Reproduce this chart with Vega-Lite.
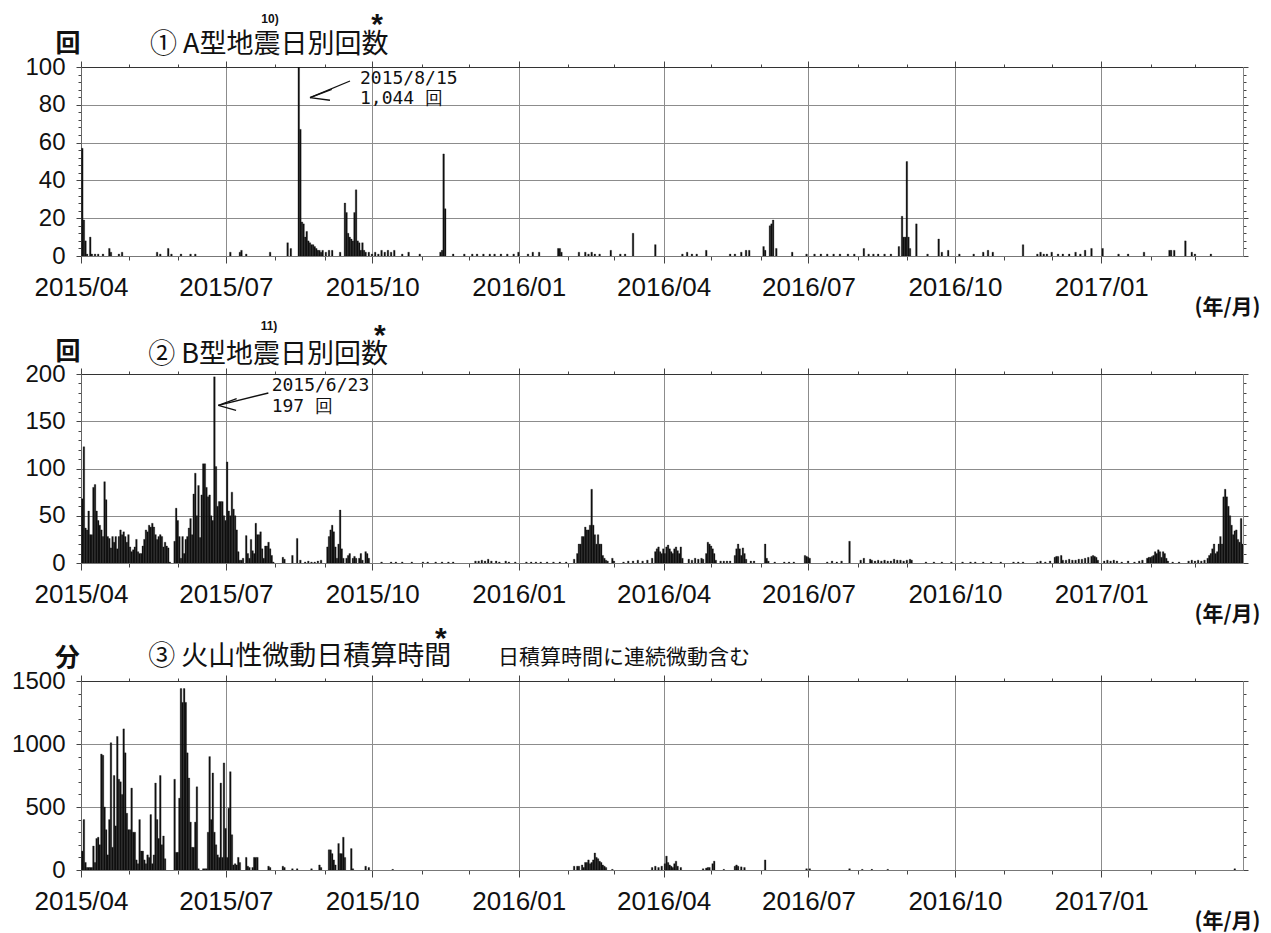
{
  "$schema": "https://vega.github.io/schema/vega-lite/v6.json",
  "background": "white",
  "padding": {"left": 11, "top": 9, "right": 5, "bottom": 5},
  "config": {
    "view": {"stroke": null},
    "axis": {"labelFont": "Liberation Sans", "labelColor": "#111", "tickColor": "#444", "domainColor": "#666", "gridColor": "#8c8c8c", "gridWidth": 1, "labelFlush": false, "labelOverlap": false, "labelBound": false},
    "text": {"color": "#111"}
  },
  "spacing": 118,
  "bounds": "flush",
  "vconcat": [
    {
      "width": 1162, "height": 189,
      "resolve": {"axis": {"x": "independent", "y": "independent"}},
      "layer": [
        {
          "data": {"values": [{"d":"2015-04-01","v":57},{"d":"2015-04-02","v":19},{"d":"2015-04-03","v":8},{"d":"2015-04-04","v":1},{"d":"2015-04-06","v":10},{"d":"2015-04-07","v":1},{"d":"2015-04-09","v":1},{"d":"2015-04-11","v":1},{"d":"2015-04-14","v":1},{"d":"2015-04-18","v":4},{"d":"2015-04-19","v":2},{"d":"2015-04-24","v":1},{"d":"2015-04-26","v":2},{"d":"2015-05-18","v":2},{"d":"2015-05-20","v":1},{"d":"2015-05-25","v":4},{"d":"2015-05-27","v":1},{"d":"2015-06-02","v":1},{"d":"2015-06-08","v":1},{"d":"2015-06-11","v":1},{"d":"2015-07-03","v":2},{"d":"2015-07-09","v":2},{"d":"2015-07-10","v":3},{"d":"2015-07-13","v":1},{"d":"2015-07-28","v":2},{"d":"2015-08-08","v":7},{"d":"2015-08-10","v":4},{"d":"2015-08-15","v":1044},{"d":"2015-08-16","v":67},{"d":"2015-08-17","v":18},{"d":"2015-08-18","v":17},{"d":"2015-08-19","v":10},{"d":"2015-08-20","v":13},{"d":"2015-08-21","v":8},{"d":"2015-08-22","v":7},{"d":"2015-08-23","v":6},{"d":"2015-08-24","v":6},{"d":"2015-08-25","v":5},{"d":"2015-08-26","v":4},{"d":"2015-08-27","v":3},{"d":"2015-08-28","v":3},{"d":"2015-08-29","v":2},{"d":"2015-08-30","v":3},{"d":"2015-09-01","v":2},{"d":"2015-09-03","v":3},{"d":"2015-09-05","v":3},{"d":"2015-09-10","v":2},{"d":"2015-09-13","v":28},{"d":"2015-09-14","v":23},{"d":"2015-09-15","v":12},{"d":"2015-09-16","v":10},{"d":"2015-09-17","v":9},{"d":"2015-09-18","v":8},{"d":"2015-09-19","v":23},{"d":"2015-09-20","v":35},{"d":"2015-09-21","v":8},{"d":"2015-09-22","v":7},{"d":"2015-09-23","v":3},{"d":"2015-09-24","v":7},{"d":"2015-09-25","v":3},{"d":"2015-09-26","v":2},{"d":"2015-09-28","v":2},{"d":"2015-09-30","v":1},{"d":"2015-10-02","v":2},{"d":"2015-10-04","v":1},{"d":"2015-10-06","v":3},{"d":"2015-10-08","v":2},{"d":"2015-10-10","v":3},{"d":"2015-10-12","v":2},{"d":"2015-10-14","v":3},{"d":"2015-10-19","v":1},{"d":"2015-10-23","v":2},{"d":"2015-10-30","v":1},{"d":"2015-11-12","v":2},{"d":"2015-11-13","v":3},{"d":"2015-11-14","v":54},{"d":"2015-11-15","v":25},{"d":"2015-11-20","v":1},{"d":"2015-11-27","v":1},{"d":"2015-12-02","v":1},{"d":"2015-12-05","v":1},{"d":"2015-12-09","v":1},{"d":"2015-12-13","v":1},{"d":"2015-12-16","v":1},{"d":"2015-12-20","v":1},{"d":"2015-12-24","v":1},{"d":"2015-12-28","v":1},{"d":"2015-12-31","v":2},{"d":"2016-01-06","v":1},{"d":"2016-01-09","v":2},{"d":"2016-01-13","v":2},{"d":"2016-01-25","v":4},{"d":"2016-01-26","v":4},{"d":"2016-01-27","v":2},{"d":"2016-02-07","v":2},{"d":"2016-02-11","v":2},{"d":"2016-02-13","v":1},{"d":"2016-02-15","v":2},{"d":"2016-02-17","v":1},{"d":"2016-02-20","v":1},{"d":"2016-02-27","v":3},{"d":"2016-03-04","v":1},{"d":"2016-03-07","v":1},{"d":"2016-03-12","v":12},{"d":"2016-03-26","v":6},{"d":"2016-04-12","v":1},{"d":"2016-04-15","v":2},{"d":"2016-04-18","v":1},{"d":"2016-04-21","v":1},{"d":"2016-04-27","v":3},{"d":"2016-05-12","v":1},{"d":"2016-05-15","v":1},{"d":"2016-05-19","v":2},{"d":"2016-05-22","v":3},{"d":"2016-05-24","v":3},{"d":"2016-06-02","v":5},{"d":"2016-06-03","v":3},{"d":"2016-06-06","v":16},{"d":"2016-06-07","v":17},{"d":"2016-06-08","v":19},{"d":"2016-06-10","v":4},{"d":"2016-06-20","v":2},{"d":"2016-06-29","v":1},{"d":"2016-07-04","v":1},{"d":"2016-07-08","v":1},{"d":"2016-07-12","v":1},{"d":"2016-07-16","v":1},{"d":"2016-07-20","v":1},{"d":"2016-07-25","v":1},{"d":"2016-07-29","v":1},{"d":"2016-08-04","v":4},{"d":"2016-08-07","v":1},{"d":"2016-08-10","v":1},{"d":"2016-08-13","v":1},{"d":"2016-08-17","v":1},{"d":"2016-08-21","v":1},{"d":"2016-08-26","v":5},{"d":"2016-08-28","v":21},{"d":"2016-08-29","v":10},{"d":"2016-08-30","v":10},{"d":"2016-08-31","v":50},{"d":"2016-09-01","v":10},{"d":"2016-09-02","v":4},{"d":"2016-09-06","v":17},{"d":"2016-09-13","v":1},{"d":"2016-09-20","v":9},{"d":"2016-09-22","v":2},{"d":"2016-09-26","v":3},{"d":"2016-10-03","v":1},{"d":"2016-10-12","v":1},{"d":"2016-10-18","v":2},{"d":"2016-10-21","v":3},{"d":"2016-10-24","v":2},{"d":"2016-11-12","v":6},{"d":"2016-11-21","v":1},{"d":"2016-11-23","v":2},{"d":"2016-11-25","v":1},{"d":"2016-11-27","v":1},{"d":"2016-11-30","v":2},{"d":"2016-12-04","v":1},{"d":"2016-12-07","v":1},{"d":"2016-12-11","v":1},{"d":"2016-12-15","v":2},{"d":"2016-12-18","v":1},{"d":"2016-12-21","v":3},{"d":"2016-12-25","v":4},{"d":"2017-01-01","v":4},{"d":"2017-01-11","v":1},{"d":"2017-01-17","v":1},{"d":"2017-01-27","v":2},{"d":"2017-02-12","v":3},{"d":"2017-02-13","v":3},{"d":"2017-02-15","v":3},{"d":"2017-02-22","v":8},{"d":"2017-02-26","v":2},{"d":"2017-02-28","v":1},{"d":"2017-03-10","v":1}]},
          "mark": {"type": "bar", "color": "#111", "binSpacing": 0, "clip": true, "stroke": "#111", "strokeWidth": 0.3},
          "encoding": {
            "x": {"field": "d", "type": "temporal", "timeUnit": "utcyearmonthdate",
              "scale": {"type": "utc", "nice": false, "domain": [{"year":2015,"month":4,"date":1,"utc":true},{"year":2017,"month":3,"date":31,"utc":true}]},
              "axis": {"orient": "bottom", "values": [{"year":2015,"month":4,"date":1,"utc":true},{"year":2015,"month":5,"date":1,"utc":true},{"year":2015,"month":6,"date":1,"utc":true},{"year":2015,"month":7,"date":1,"utc":true},{"year":2015,"month":8,"date":1,"utc":true},{"year":2015,"month":9,"date":1,"utc":true},{"year":2015,"month":10,"date":1,"utc":true},{"year":2015,"month":11,"date":1,"utc":true},{"year":2015,"month":12,"date":1,"utc":true},{"year":2016,"month":1,"date":1,"utc":true},{"year":2016,"month":2,"date":1,"utc":true},{"year":2016,"month":3,"date":1,"utc":true},{"year":2016,"month":4,"date":1,"utc":true},{"year":2016,"month":5,"date":1,"utc":true},{"year":2016,"month":6,"date":1,"utc":true},{"year":2016,"month":7,"date":1,"utc":true},{"year":2016,"month":8,"date":1,"utc":true},{"year":2016,"month":9,"date":1,"utc":true},{"year":2016,"month":10,"date":1,"utc":true},{"year":2016,"month":11,"date":1,"utc":true},{"year":2016,"month":12,"date":1,"utc":true},{"year":2017,"month":1,"date":1,"utc":true},{"year":2017,"month":2,"date":1,"utc":true},{"year":2017,"month":3,"date":1,"utc":true}],
                "labelExpr": "utcmonth(datum.value) % 3 === 0 ? utcFormat(datum.value, '%Y/%m') : ''",
                "labelFontSize": 26, "labelPadding": 11,
                "grid": true, "gridOpacity": {"condition": {"test": "utcmonth(datum.value) % 3 === 0", "value": 1}, "value": 0},
                "tickSize": {"condition": {"test": "utcmonth(datum.value) % 3 === 0", "value": 7}, "value": 4},
                "domainColor": "#777",
                "title": "(年/月)", "titleFont": "Noto Sans CJK JP", "titleFontSize": 21, "titleFontWeight": "bold", "titleColor": "#111",
                "titleAlign": "right", "titleBaseline": "alphabetic", "titleX": 1179, "titleY": 57}},
            "y": {"field": "v", "type": "quantitative", "scale": {"domain": [0, 100], "nice": false},
              "axis": {"orient": "left", "values": [0,4,8,12,16,20,24,28,32,36,40,44,48,52,56,60,64,68,72,76,80,84,88,92,96,100],
                "labelExpr": "datum.value % 20 === 0 ? datum.label : ''", "labelFontSize": 24, "labelPadding": 11,
                "grid": true, "gridOpacity": {"condition": {"test": "datum.value % 20 === 0", "value": 1}, "value": 0},
                "tickSize": {"condition": {"test": "datum.value % 20 === 0", "value": 5}, "value": 3},
                "title": "回", "titleAngle": 0, "titleFont": "Noto Sans CJK JP", "titleFontSize": 25, "titleFontWeight": "bold", "titleColor": "#111",
                "titleAlign": "center", "titleBaseline": "alphabetic", "titleX": -13.5, "titleY": -15.5}}
          }
        },
        {
          "data": {"values": [{"d": "2015-05-14T08:00:00Z", "v": 107.4, "t": "① A型地震日別回数"}]},
          "mark": {"type": "text", "align": "left", "baseline": "alphabetic", "font": "Noto Sans CJK JP", "fontSize": 27},
          "encoding": {
            "x": {"field": "d", "type": "temporal", "scale": {"type": "utc"},
              "axis": {"orient": "top", "values": [{"year":2015,"month":4,"date":1,"utc":true},{"year":2015,"month":5,"date":1,"utc":true},{"year":2015,"month":6,"date":1,"utc":true},{"year":2015,"month":7,"date":1,"utc":true},{"year":2015,"month":8,"date":1,"utc":true},{"year":2015,"month":9,"date":1,"utc":true},{"year":2015,"month":10,"date":1,"utc":true},{"year":2015,"month":11,"date":1,"utc":true},{"year":2015,"month":12,"date":1,"utc":true},{"year":2016,"month":1,"date":1,"utc":true},{"year":2016,"month":2,"date":1,"utc":true},{"year":2016,"month":3,"date":1,"utc":true},{"year":2016,"month":4,"date":1,"utc":true},{"year":2016,"month":5,"date":1,"utc":true},{"year":2016,"month":6,"date":1,"utc":true},{"year":2016,"month":7,"date":1,"utc":true},{"year":2016,"month":8,"date":1,"utc":true},{"year":2016,"month":9,"date":1,"utc":true},{"year":2016,"month":10,"date":1,"utc":true},{"year":2016,"month":11,"date":1,"utc":true},{"year":2016,"month":12,"date":1,"utc":true},{"year":2017,"month":1,"date":1,"utc":true},{"year":2017,"month":2,"date":1,"utc":true},{"year":2017,"month":3,"date":1,"utc":true}],
                "labels": false, "grid": false, "domainColor": "#333", "title": null,
                "tickSize": {"condition": {"test": "utcmonth(datum.value) % 3 === 0", "value": 6}, "value": 3}}},
            "y": {"field": "v", "type": "quantitative",
              "axis": {"orient": "right", "values": [0,4,8,12,16,20,24,28,32,36,40,44,48,52,56,60,64,68,72,76,80,84,88,92,96,100],
                "labels": false, "grid": false, "domainColor": "#888", "title": null,
                "tickSize": {"condition": {"test": "datum.value % 20 === 0", "value": 5}, "value": 3}}},
            "text": {"field": "t"}
          }
        },
        {
          "data": {"values": [{"d": "2015-07-28T17:00:00Z", "v": 123.5, "t": "10)"}]},
          "mark": {"type": "text", "align": "center", "baseline": "alphabetic", "font": "Liberation Sans", "fontSize": 12, "fontWeight": "bold"},
          "encoding": {"x": {"field": "d", "type": "temporal", "scale": {"type": "utc"}, "axis": null}, "y": {"field": "v", "type": "quantitative", "axis": null}, "text": {"field": "t"}}
        },
        {
          "data": {"values": [{"d": "2015-10-03T23:00:00Z", "v": 117.5, "t": "*"}]},
          "mark": {"type": "text", "align": "center", "baseline": "alphabetic", "font": "Liberation Sans", "fontSize": 30, "fontWeight": "bold"},
          "encoding": {"x": {"field": "d", "type": "temporal", "scale": {"type": "utc"}, "axis": null}, "y": {"field": "v", "type": "quantitative", "axis": null}, "text": {"field": "t"}}
        },
        {
          "data": {"values": [{"d": "2015-09-23T07:00:00Z", "v": 93.8, "t": "2015/8/15"}, {"d": "2015-09-23T07:00:00Z", "v": 83.2, "t": "1,044 回"}]},
          "mark": {"type": "text", "align": "left", "baseline": "middle", "font": "DejaVu Sans Mono", "fontSize": 18},
          "encoding": {"x": {"field": "d", "type": "temporal", "scale": {"type": "utc"}, "axis": null}, "y": {"field": "v", "type": "quantitative", "axis": null}, "text": {"field": "t"}}
        },
        {
          "data": {"values": [{"x1": "2015-08-22T21:00:00Z", "y1": 83.8, "x2": "2015-09-17T00:00:00Z", "y2": 92.6}, {"x1": "2015-08-22T21:00:00Z", "y1": 83.8, "x2": "2015-09-05T12:00:00Z", "y2": 88.2}, {"x1": "2015-08-22T21:00:00Z", "y1": 83.8, "x2": "2015-09-04T10:00:00Z", "y2": 82.4}]},
          "mark": {"type": "rule", "color": "#111", "strokeWidth": 1.3},
          "encoding": {"x": {"field": "x1", "type": "temporal", "scale": {"type": "utc"}, "axis": null}, "x2": {"field": "x2"}, "y": {"field": "y1", "type": "quantitative", "axis": null}, "y2": {"field": "y2"}}
        }
      ]
    },
    {
      "width": 1162, "height": 189,
      "resolve": {"axis": {"x": "independent", "y": "independent"}},
      "layer": [
        {
          "data": {"values": [{"d":"2015-04-01","v":68},{"d":"2015-04-02","v":123},{"d":"2015-04-03","v":37},{"d":"2015-04-04","v":35},{"d":"2015-04-05","v":55},{"d":"2015-04-06","v":30},{"d":"2015-04-07","v":30},{"d":"2015-04-08","v":80},{"d":"2015-04-09","v":83},{"d":"2015-04-10","v":55},{"d":"2015-04-11","v":45},{"d":"2015-04-12","v":40},{"d":"2015-04-13","v":35},{"d":"2015-04-14","v":28},{"d":"2015-04-15","v":86},{"d":"2015-04-16","v":67},{"d":"2015-04-17","v":28},{"d":"2015-04-18","v":26},{"d":"2015-04-19","v":16},{"d":"2015-04-20","v":28},{"d":"2015-04-21","v":22},{"d":"2015-04-22","v":28},{"d":"2015-04-23","v":15},{"d":"2015-04-24","v":28},{"d":"2015-04-25","v":35},{"d":"2015-04-26","v":30},{"d":"2015-04-27","v":33},{"d":"2015-04-28","v":28},{"d":"2015-04-29","v":22},{"d":"2015-04-30","v":30},{"d":"2015-05-01","v":17},{"d":"2015-05-02","v":12},{"d":"2015-05-03","v":14},{"d":"2015-05-04","v":17},{"d":"2015-05-05","v":25},{"d":"2015-05-06","v":12},{"d":"2015-05-07","v":10},{"d":"2015-05-08","v":10},{"d":"2015-05-09","v":18},{"d":"2015-05-10","v":25},{"d":"2015-05-11","v":35},{"d":"2015-05-12","v":33},{"d":"2015-05-13","v":40},{"d":"2015-05-14","v":38},{"d":"2015-05-15","v":42},{"d":"2015-05-16","v":38},{"d":"2015-05-17","v":30},{"d":"2015-05-18","v":25},{"d":"2015-05-19","v":28},{"d":"2015-05-20","v":30},{"d":"2015-05-21","v":28},{"d":"2015-05-22","v":17},{"d":"2015-05-23","v":22},{"d":"2015-05-24","v":18},{"d":"2015-05-25","v":16},{"d":"2015-05-26","v":1},{"d":"2015-05-29","v":23},{"d":"2015-05-30","v":58},{"d":"2015-05-31","v":45},{"d":"2015-06-01","v":28},{"d":"2015-06-02","v":5},{"d":"2015-06-03","v":28},{"d":"2015-06-04","v":10},{"d":"2015-06-05","v":25},{"d":"2015-06-06","v":28},{"d":"2015-06-07","v":37},{"d":"2015-06-08","v":47},{"d":"2015-06-09","v":30},{"d":"2015-06-10","v":73},{"d":"2015-06-11","v":95},{"d":"2015-06-12","v":50},{"d":"2015-06-13","v":82},{"d":"2015-06-14","v":27},{"d":"2015-06-15","v":72},{"d":"2015-06-16","v":105},{"d":"2015-06-17","v":105},{"d":"2015-06-18","v":80},{"d":"2015-06-19","v":70},{"d":"2015-06-20","v":72},{"d":"2015-06-21","v":50},{"d":"2015-06-22","v":45},{"d":"2015-06-23","v":197},{"d":"2015-06-24","v":102},{"d":"2015-06-25","v":60},{"d":"2015-06-26","v":65},{"d":"2015-06-27","v":65},{"d":"2015-06-28","v":65},{"d":"2015-06-29","v":50},{"d":"2015-06-30","v":45},{"d":"2015-07-01","v":107},{"d":"2015-07-02","v":55},{"d":"2015-07-03","v":50},{"d":"2015-07-04","v":75},{"d":"2015-07-05","v":57},{"d":"2015-07-06","v":50},{"d":"2015-07-07","v":35},{"d":"2015-07-08","v":12},{"d":"2015-07-09","v":3},{"d":"2015-07-10","v":3},{"d":"2015-07-11","v":5},{"d":"2015-07-13","v":29},{"d":"2015-07-14","v":10},{"d":"2015-07-15","v":5},{"d":"2015-07-16","v":25},{"d":"2015-07-17","v":13},{"d":"2015-07-18","v":10},{"d":"2015-07-19","v":42},{"d":"2015-07-20","v":30},{"d":"2015-07-21","v":30},{"d":"2015-07-22","v":33},{"d":"2015-07-23","v":15},{"d":"2015-07-24","v":5},{"d":"2015-07-25","v":18},{"d":"2015-07-26","v":18},{"d":"2015-07-27","v":22},{"d":"2015-07-28","v":15},{"d":"2015-07-29","v":8},{"d":"2015-07-30","v":1},{"d":"2015-08-05","v":6},{"d":"2015-08-06","v":4},{"d":"2015-08-11","v":8},{"d":"2015-08-14","v":26},{"d":"2015-08-16","v":3},{"d":"2015-08-19","v":1},{"d":"2015-08-21","v":2},{"d":"2015-08-23","v":1},{"d":"2015-08-25","v":1},{"d":"2015-08-27","v":2},{"d":"2015-08-29","v":3},{"d":"2015-09-02","v":17},{"d":"2015-09-03","v":28},{"d":"2015-09-04","v":35},{"d":"2015-09-05","v":40},{"d":"2015-09-06","v":33},{"d":"2015-09-07","v":17},{"d":"2015-09-08","v":5},{"d":"2015-09-09","v":20},{"d":"2015-09-10","v":56},{"d":"2015-09-11","v":15},{"d":"2015-09-12","v":5},{"d":"2015-09-14","v":5},{"d":"2015-09-15","v":8},{"d":"2015-09-16","v":10},{"d":"2015-09-18","v":5},{"d":"2015-09-19","v":7},{"d":"2015-09-20","v":5},{"d":"2015-09-22","v":5},{"d":"2015-09-23","v":10},{"d":"2015-09-24","v":3},{"d":"2015-09-26","v":12},{"d":"2015-09-27","v":10},{"d":"2015-09-28","v":5},{"d":"2015-10-06","v":1},{"d":"2015-10-12","v":1},{"d":"2015-10-15","v":1},{"d":"2015-10-19","v":1},{"d":"2015-10-25","v":1},{"d":"2015-11-01","v":1},{"d":"2015-11-04","v":1},{"d":"2015-11-09","v":1},{"d":"2015-11-13","v":1},{"d":"2015-11-17","v":1},{"d":"2015-11-20","v":1},{"d":"2015-12-04","v":2},{"d":"2015-12-06","v":2},{"d":"2015-12-08","v":3},{"d":"2015-12-10","v":2},{"d":"2015-12-12","v":4},{"d":"2015-12-14","v":2},{"d":"2015-12-17","v":2},{"d":"2015-12-19","v":1},{"d":"2015-12-23","v":2},{"d":"2015-12-25","v":1},{"d":"2015-12-29","v":1},{"d":"2016-01-05","v":1},{"d":"2016-01-08","v":1},{"d":"2016-01-11","v":1},{"d":"2016-01-14","v":1},{"d":"2016-01-18","v":1},{"d":"2016-01-22","v":1},{"d":"2016-01-26","v":1},{"d":"2016-01-30","v":1},{"d":"2016-02-04","v":4},{"d":"2016-02-06","v":10},{"d":"2016-02-07","v":20},{"d":"2016-02-08","v":20},{"d":"2016-02-09","v":28},{"d":"2016-02-10","v":28},{"d":"2016-02-11","v":38},{"d":"2016-02-12","v":35},{"d":"2016-02-13","v":35},{"d":"2016-02-14","v":40},{"d":"2016-02-15","v":78},{"d":"2016-02-16","v":40},{"d":"2016-02-17","v":30},{"d":"2016-02-18","v":20},{"d":"2016-02-19","v":30},{"d":"2016-02-20","v":20},{"d":"2016-02-21","v":20},{"d":"2016-02-22","v":8},{"d":"2016-02-23","v":5},{"d":"2016-02-24","v":3},{"d":"2016-02-25","v":2},{"d":"2016-02-28","v":5},{"d":"2016-02-29","v":2},{"d":"2016-03-06","v":1},{"d":"2016-03-09","v":2},{"d":"2016-03-12","v":2},{"d":"2016-03-15","v":3},{"d":"2016-03-18","v":2},{"d":"2016-03-21","v":3},{"d":"2016-03-24","v":5},{"d":"2016-03-26","v":12},{"d":"2016-03-27","v":15},{"d":"2016-03-28","v":17},{"d":"2016-03-29","v":12},{"d":"2016-03-30","v":10},{"d":"2016-03-31","v":15},{"d":"2016-04-01","v":10},{"d":"2016-04-02","v":17},{"d":"2016-04-03","v":19},{"d":"2016-04-04","v":15},{"d":"2016-04-05","v":12},{"d":"2016-04-06","v":10},{"d":"2016-04-07","v":15},{"d":"2016-04-08","v":17},{"d":"2016-04-09","v":13},{"d":"2016-04-10","v":10},{"d":"2016-04-11","v":17},{"d":"2016-04-12","v":5},{"d":"2016-04-16","v":4},{"d":"2016-04-18","v":3},{"d":"2016-04-20","v":5},{"d":"2016-04-22","v":4},{"d":"2016-04-24","v":5},{"d":"2016-04-25","v":4},{"d":"2016-04-27","v":10},{"d":"2016-04-28","v":22},{"d":"2016-04-29","v":20},{"d":"2016-04-30","v":18},{"d":"2016-05-01","v":15},{"d":"2016-05-02","v":10},{"d":"2016-05-03","v":3},{"d":"2016-05-06","v":2},{"d":"2016-05-08","v":2},{"d":"2016-05-10","v":2},{"d":"2016-05-12","v":2},{"d":"2016-05-15","v":8},{"d":"2016-05-16","v":15},{"d":"2016-05-17","v":20},{"d":"2016-05-18","v":15},{"d":"2016-05-19","v":8},{"d":"2016-05-20","v":16},{"d":"2016-05-21","v":10},{"d":"2016-05-22","v":4},{"d":"2016-05-25","v":2},{"d":"2016-05-27","v":2},{"d":"2016-06-03","v":20},{"d":"2016-06-04","v":5},{"d":"2016-06-05","v":2},{"d":"2016-06-09","v":1},{"d":"2016-06-15","v":1},{"d":"2016-06-18","v":1},{"d":"2016-06-21","v":1},{"d":"2016-06-28","v":8},{"d":"2016-06-29","v":7},{"d":"2016-06-30","v":6},{"d":"2016-07-01","v":5},{"d":"2016-07-12","v":1},{"d":"2016-07-15","v":2},{"d":"2016-07-18","v":1},{"d":"2016-07-21","v":2},{"d":"2016-07-26","v":23},{"d":"2016-08-02","v":3},{"d":"2016-08-04","v":5},{"d":"2016-08-08","v":4},{"d":"2016-08-09","v":3},{"d":"2016-08-11","v":2},{"d":"2016-08-13","v":3},{"d":"2016-08-15","v":2},{"d":"2016-08-17","v":3},{"d":"2016-08-19","v":2},{"d":"2016-08-21","v":2},{"d":"2016-08-23","v":4},{"d":"2016-08-25","v":3},{"d":"2016-08-27","v":3},{"d":"2016-08-29","v":2},{"d":"2016-08-31","v":3},{"d":"2016-09-02","v":4},{"d":"2016-09-03","v":3},{"d":"2016-09-12","v":1},{"d":"2016-09-17","v":1},{"d":"2016-09-22","v":1},{"d":"2016-09-28","v":1},{"d":"2016-10-05","v":1},{"d":"2016-10-10","v":1},{"d":"2016-10-13","v":1},{"d":"2016-10-18","v":1},{"d":"2016-10-23","v":1},{"d":"2016-10-29","v":1},{"d":"2016-11-06","v":1},{"d":"2016-11-09","v":1},{"d":"2016-11-12","v":1},{"d":"2016-11-21","v":1},{"d":"2016-11-23","v":2},{"d":"2016-11-26","v":1},{"d":"2016-11-29","v":2},{"d":"2016-12-02","v":6},{"d":"2016-12-03","v":7},{"d":"2016-12-04","v":7},{"d":"2016-12-06","v":8},{"d":"2016-12-07","v":3},{"d":"2016-12-09","v":3},{"d":"2016-12-11","v":4},{"d":"2016-12-13","v":3},{"d":"2016-12-15","v":3},{"d":"2016-12-17","v":4},{"d":"2016-12-19","v":4},{"d":"2016-12-21","v":5},{"d":"2016-12-23","v":6},{"d":"2016-12-25","v":7},{"d":"2016-12-26","v":8},{"d":"2016-12-27","v":7},{"d":"2016-12-28","v":6},{"d":"2016-12-29","v":3},{"d":"2017-01-02","v":2},{"d":"2017-01-04","v":3},{"d":"2017-01-06","v":2},{"d":"2017-01-08","v":3},{"d":"2017-01-10","v":2},{"d":"2017-01-13","v":1},{"d":"2017-01-17","v":2},{"d":"2017-01-21","v":1},{"d":"2017-01-24","v":2},{"d":"2017-01-26","v":3},{"d":"2017-01-29","v":5},{"d":"2017-01-30","v":6},{"d":"2017-01-31","v":6},{"d":"2017-02-01","v":7},{"d":"2017-02-02","v":8},{"d":"2017-02-03","v":12},{"d":"2017-02-04","v":10},{"d":"2017-02-05","v":14},{"d":"2017-02-06","v":12},{"d":"2017-02-07","v":6},{"d":"2017-02-08","v":12},{"d":"2017-02-09","v":10},{"d":"2017-02-10","v":5},{"d":"2017-02-11","v":2},{"d":"2017-02-14","v":1},{"d":"2017-02-18","v":1},{"d":"2017-02-24","v":2},{"d":"2017-02-26","v":3},{"d":"2017-02-28","v":2},{"d":"2017-03-02","v":3},{"d":"2017-03-04","v":2},{"d":"2017-03-06","v":3},{"d":"2017-03-08","v":5},{"d":"2017-03-09","v":8},{"d":"2017-03-10","v":10},{"d":"2017-03-11","v":15},{"d":"2017-03-12","v":20},{"d":"2017-03-13","v":10},{"d":"2017-03-14","v":12},{"d":"2017-03-15","v":20},{"d":"2017-03-16","v":28},{"d":"2017-03-17","v":20},{"d":"2017-03-18","v":70},{"d":"2017-03-19","v":78},{"d":"2017-03-20","v":70},{"d":"2017-03-21","v":60},{"d":"2017-03-22","v":50},{"d":"2017-03-23","v":40},{"d":"2017-03-24","v":30},{"d":"2017-03-25","v":34},{"d":"2017-03-26","v":35},{"d":"2017-03-27","v":25},{"d":"2017-03-28","v":22},{"d":"2017-03-29","v":47},{"d":"2017-03-30","v":20}]},
          "mark": {"type": "bar", "color": "#111", "binSpacing": 0, "clip": true, "stroke": "#111", "strokeWidth": 0.3},
          "encoding": {
            "x": {"field": "d", "type": "temporal", "timeUnit": "utcyearmonthdate",
              "scale": {"type": "utc", "nice": false, "domain": [{"year":2015,"month":4,"date":1,"utc":true},{"year":2017,"month":3,"date":31,"utc":true}]},
              "axis": {"orient": "bottom", "values": [{"year":2015,"month":4,"date":1,"utc":true},{"year":2015,"month":5,"date":1,"utc":true},{"year":2015,"month":6,"date":1,"utc":true},{"year":2015,"month":7,"date":1,"utc":true},{"year":2015,"month":8,"date":1,"utc":true},{"year":2015,"month":9,"date":1,"utc":true},{"year":2015,"month":10,"date":1,"utc":true},{"year":2015,"month":11,"date":1,"utc":true},{"year":2015,"month":12,"date":1,"utc":true},{"year":2016,"month":1,"date":1,"utc":true},{"year":2016,"month":2,"date":1,"utc":true},{"year":2016,"month":3,"date":1,"utc":true},{"year":2016,"month":4,"date":1,"utc":true},{"year":2016,"month":5,"date":1,"utc":true},{"year":2016,"month":6,"date":1,"utc":true},{"year":2016,"month":7,"date":1,"utc":true},{"year":2016,"month":8,"date":1,"utc":true},{"year":2016,"month":9,"date":1,"utc":true},{"year":2016,"month":10,"date":1,"utc":true},{"year":2016,"month":11,"date":1,"utc":true},{"year":2016,"month":12,"date":1,"utc":true},{"year":2017,"month":1,"date":1,"utc":true},{"year":2017,"month":2,"date":1,"utc":true},{"year":2017,"month":3,"date":1,"utc":true}],
                "labelExpr": "utcmonth(datum.value) % 3 === 0 ? utcFormat(datum.value, '%Y/%m') : ''",
                "labelFontSize": 26, "labelPadding": 11,
                "grid": true, "gridOpacity": {"condition": {"test": "utcmonth(datum.value) % 3 === 0", "value": 1}, "value": 0},
                "tickSize": {"condition": {"test": "utcmonth(datum.value) % 3 === 0", "value": 7}, "value": 4},
                "domainColor": "#777",
                "title": "(年/月)", "titleFont": "Noto Sans CJK JP", "titleFontSize": 21, "titleFontWeight": "bold", "titleColor": "#111",
                "titleAlign": "right", "titleBaseline": "alphabetic", "titleX": 1179, "titleY": 57}},
            "y": {"field": "v", "type": "quantitative", "scale": {"domain": [0, 200], "nice": false},
              "axis": {"orient": "left", "values": [0,10,20,30,40,50,60,70,80,90,100,110,120,130,140,150,160,170,180,190,200],
                "labelExpr": "datum.value % 50 === 0 ? datum.label : ''", "labelFontSize": 24, "labelPadding": 11,
                "grid": true, "gridOpacity": {"condition": {"test": "datum.value % 50 === 0", "value": 1}, "value": 0},
                "tickSize": {"condition": {"test": "datum.value % 50 === 0", "value": 5}, "value": 3},
                "title": "回", "titleAngle": 0, "titleFont": "Noto Sans CJK JP", "titleFontSize": 25, "titleFontWeight": "bold", "titleColor": "#111",
                "titleAlign": "center", "titleBaseline": "alphabetic", "titleX": -13.5, "titleY": -14.2}}
          }
        },
        {
          "data": {"values": [{"d": "2015-05-13T07:00:00Z", "v": 211.6, "t": "② B型地震日別回数"}]},
          "mark": {"type": "text", "align": "left", "baseline": "alphabetic", "font": "Noto Sans CJK JP", "fontSize": 27},
          "encoding": {
            "x": {"field": "d", "type": "temporal", "scale": {"type": "utc"},
              "axis": {"orient": "top", "values": [{"year":2015,"month":4,"date":1,"utc":true},{"year":2015,"month":5,"date":1,"utc":true},{"year":2015,"month":6,"date":1,"utc":true},{"year":2015,"month":7,"date":1,"utc":true},{"year":2015,"month":8,"date":1,"utc":true},{"year":2015,"month":9,"date":1,"utc":true},{"year":2015,"month":10,"date":1,"utc":true},{"year":2015,"month":11,"date":1,"utc":true},{"year":2015,"month":12,"date":1,"utc":true},{"year":2016,"month":1,"date":1,"utc":true},{"year":2016,"month":2,"date":1,"utc":true},{"year":2016,"month":3,"date":1,"utc":true},{"year":2016,"month":4,"date":1,"utc":true},{"year":2016,"month":5,"date":1,"utc":true},{"year":2016,"month":6,"date":1,"utc":true},{"year":2016,"month":7,"date":1,"utc":true},{"year":2016,"month":8,"date":1,"utc":true},{"year":2016,"month":9,"date":1,"utc":true},{"year":2016,"month":10,"date":1,"utc":true},{"year":2016,"month":11,"date":1,"utc":true},{"year":2016,"month":12,"date":1,"utc":true},{"year":2017,"month":1,"date":1,"utc":true},{"year":2017,"month":2,"date":1,"utc":true},{"year":2017,"month":3,"date":1,"utc":true}],
                "labels": false, "grid": false, "domainColor": "#333", "title": null,
                "tickSize": {"condition": {"test": "utcmonth(datum.value) % 3 === 0", "value": 6}, "value": 3}}},
            "y": {"field": "v", "type": "quantitative",
              "axis": {"orient": "right", "values": [0,10,20,30,40,50,60,70,80,90,100,110,120,130,140,150,160,170,180,190,200],
                "labels": false, "grid": false, "domainColor": "#888", "title": null,
                "tickSize": {"condition": {"test": "datum.value % 50 === 0", "value": 5}, "value": 3}}},
            "text": {"field": "t"}
          }
        },
        {
          "data": {"values": [{"d": "2015-07-28T03:00:00Z", "v": 246.5, "t": "11)"}]},
          "mark": {"type": "text", "align": "center", "baseline": "alphabetic", "font": "Liberation Sans", "fontSize": 12, "fontWeight": "bold"},
          "encoding": {"x": {"field": "d", "type": "temporal", "scale": {"type": "utc"}, "axis": null}, "y": {"field": "v", "type": "quantitative", "axis": null}, "text": {"field": "t"}}
        },
        {
          "data": {"values": [{"d": "2015-10-05T16:00:00Z", "v": 231.1, "t": "*"}]},
          "mark": {"type": "text", "align": "center", "baseline": "alphabetic", "font": "Liberation Sans", "fontSize": 30, "fontWeight": "bold"},
          "encoding": {"x": {"field": "d", "type": "temporal", "scale": {"type": "utc"}, "axis": null}, "y": {"field": "v", "type": "quantitative", "axis": null}, "text": {"field": "t"}}
        },
        {
          "data": {"values": [{"d": "2015-07-29T19:00:00Z", "v": 186.8, "t": "2015/6/23"}, {"d": "2015-07-29T19:00:00Z", "v": 164.8, "t": "197 回"}]},
          "mark": {"type": "text", "align": "left", "baseline": "middle", "font": "DejaVu Sans Mono", "fontSize": 18},
          "encoding": {"x": {"field": "d", "type": "temporal", "scale": {"type": "utc"}, "axis": null}, "y": {"field": "v", "type": "quantitative", "axis": null}, "text": {"field": "t"}}
        },
        {
          "data": {"values": [{"x1": "2015-06-26T07:00:00Z", "y1": 166.9, "x2": "2015-07-27T17:00:00Z", "y2": 179.9}, {"x1": "2015-06-26T07:00:00Z", "y1": 166.9, "x2": "2015-07-07T19:00:00Z", "y2": 174.0}, {"x1": "2015-06-26T07:00:00Z", "y1": 166.9, "x2": "2015-07-07T10:00:00Z", "y2": 161.6}]},
          "mark": {"type": "rule", "color": "#111", "strokeWidth": 1.3},
          "encoding": {"x": {"field": "x1", "type": "temporal", "scale": {"type": "utc"}, "axis": null}, "x2": {"field": "x2"}, "y": {"field": "y1", "type": "quantitative", "axis": null}, "y2": {"field": "y2"}}
        }
      ]
    },
    {
      "width": 1162, "height": 189,
      "resolve": {"axis": {"x": "independent", "y": "independent"}},
      "layer": [
        {
          "data": {"values": [{"d":"2015-04-01","v":150},{"d":"2015-04-02","v":400},{"d":"2015-04-03","v":60},{"d":"2015-04-04","v":20},{"d":"2015-04-05","v":20},{"d":"2015-04-06","v":20},{"d":"2015-04-07","v":20},{"d":"2015-04-08","v":190},{"d":"2015-04-09","v":60},{"d":"2015-04-10","v":250},{"d":"2015-04-11","v":260},{"d":"2015-04-12","v":200},{"d":"2015-04-13","v":920},{"d":"2015-04-14","v":910},{"d":"2015-04-15","v":500},{"d":"2015-04-16","v":320},{"d":"2015-04-17","v":120},{"d":"2015-04-18","v":400},{"d":"2015-04-19","v":1010},{"d":"2015-04-20","v":180},{"d":"2015-04-21","v":750},{"d":"2015-04-22","v":350},{"d":"2015-04-23","v":1060},{"d":"2015-04-24","v":720},{"d":"2015-04-25","v":700},{"d":"2015-04-26","v":600},{"d":"2015-04-27","v":1120},{"d":"2015-04-28","v":930},{"d":"2015-04-29","v":450},{"d":"2015-04-30","v":320},{"d":"2015-05-01","v":320},{"d":"2015-05-02","v":650},{"d":"2015-05-03","v":300},{"d":"2015-05-04","v":300},{"d":"2015-05-05","v":80},{"d":"2015-05-06","v":50},{"d":"2015-05-07","v":400},{"d":"2015-05-08","v":150},{"d":"2015-05-09","v":150},{"d":"2015-05-10","v":80},{"d":"2015-05-11","v":50},{"d":"2015-05-12","v":120},{"d":"2015-05-13","v":100},{"d":"2015-05-14","v":440},{"d":"2015-05-15","v":50},{"d":"2015-05-16","v":120},{"d":"2015-05-17","v":690},{"d":"2015-05-18","v":400},{"d":"2015-05-19","v":250},{"d":"2015-05-20","v":750},{"d":"2015-05-21","v":200},{"d":"2015-05-22","v":270},{"d":"2015-05-23","v":90},{"d":"2015-05-29","v":720},{"d":"2015-05-30","v":140},{"d":"2015-05-31","v":140},{"d":"2015-06-01","v":570},{"d":"2015-06-02","v":1440},{"d":"2015-06-03","v":1330},{"d":"2015-06-04","v":1440},{"d":"2015-06-05","v":1330},{"d":"2015-06-06","v":930},{"d":"2015-06-07","v":730},{"d":"2015-06-08","v":380},{"d":"2015-06-09","v":180},{"d":"2015-06-10","v":180},{"d":"2015-06-11","v":380},{"d":"2015-06-12","v":660},{"d":"2015-06-13","v":10},{"d":"2015-06-16","v":10},{"d":"2015-06-17","v":10},{"d":"2015-06-18","v":10},{"d":"2015-06-19","v":300},{"d":"2015-06-20","v":900},{"d":"2015-06-21","v":400},{"d":"2015-06-22","v":770},{"d":"2015-06-23","v":300},{"d":"2015-06-24","v":200},{"d":"2015-06-25","v":120},{"d":"2015-06-26","v":100},{"d":"2015-06-27","v":690},{"d":"2015-06-28","v":100},{"d":"2015-06-29","v":850},{"d":"2015-06-30","v":330},{"d":"2015-07-01","v":100},{"d":"2015-07-02","v":490},{"d":"2015-07-03","v":780},{"d":"2015-07-04","v":280},{"d":"2015-07-05","v":40},{"d":"2015-07-06","v":50},{"d":"2015-07-07","v":40},{"d":"2015-07-08","v":100},{"d":"2015-07-09","v":60},{"d":"2015-07-13","v":100},{"d":"2015-07-14","v":30},{"d":"2015-07-15","v":20},{"d":"2015-07-17","v":20},{"d":"2015-07-18","v":100},{"d":"2015-07-19","v":100},{"d":"2015-07-20","v":100},{"d":"2015-07-27","v":30},{"d":"2015-07-28","v":20},{"d":"2015-08-05","v":30},{"d":"2015-08-06","v":20},{"d":"2015-08-11","v":10},{"d":"2015-08-14","v":10},{"d":"2015-08-23","v":10},{"d":"2015-08-28","v":40},{"d":"2015-08-29","v":20},{"d":"2015-09-03","v":160},{"d":"2015-09-04","v":160},{"d":"2015-09-05","v":130},{"d":"2015-09-06","v":80},{"d":"2015-09-07","v":40},{"d":"2015-09-09","v":210},{"d":"2015-09-10","v":130},{"d":"2015-09-11","v":130},{"d":"2015-09-12","v":260},{"d":"2015-09-13","v":100},{"d":"2015-09-17","v":170},{"d":"2015-09-18","v":10},{"d":"2015-09-26","v":30},{"d":"2015-09-28","v":20},{"d":"2015-10-13","v":5},{"d":"2016-02-04","v":30},{"d":"2016-02-06","v":30},{"d":"2016-02-07","v":30},{"d":"2016-02-09","v":40},{"d":"2016-02-10","v":20},{"d":"2016-02-11","v":60},{"d":"2016-02-12","v":60},{"d":"2016-02-13","v":80},{"d":"2016-02-14","v":50},{"d":"2016-02-15","v":60},{"d":"2016-02-16","v":80},{"d":"2016-02-17","v":135},{"d":"2016-02-18","v":100},{"d":"2016-02-19","v":90},{"d":"2016-02-20","v":70},{"d":"2016-02-21","v":60},{"d":"2016-02-22","v":40},{"d":"2016-02-23","v":30},{"d":"2016-02-24","v":20},{"d":"2016-02-28","v":5},{"d":"2016-03-24","v":20},{"d":"2016-03-26","v":30},{"d":"2016-03-28","v":20},{"d":"2016-03-30","v":30},{"d":"2016-04-01","v":50},{"d":"2016-04-02","v":110},{"d":"2016-04-03","v":60},{"d":"2016-04-04","v":40},{"d":"2016-04-05","v":30},{"d":"2016-04-06","v":20},{"d":"2016-04-07","v":50},{"d":"2016-04-08","v":70},{"d":"2016-04-09","v":30},{"d":"2016-04-11","v":20},{"d":"2016-04-25","v":10},{"d":"2016-04-27","v":15},{"d":"2016-04-28","v":20},{"d":"2016-04-29","v":20},{"d":"2016-05-01","v":50},{"d":"2016-05-02","v":70},{"d":"2016-05-08","v":5},{"d":"2016-05-15","v":30},{"d":"2016-05-16","v":40},{"d":"2016-05-17","v":30},{"d":"2016-05-19","v":25},{"d":"2016-05-21","v":20},{"d":"2016-06-03","v":80},{"d":"2016-06-29","v":10},{"d":"2016-07-01","v":10},{"d":"2016-07-26","v":10},{"d":"2016-08-03","v":5},{"d":"2016-08-09","v":5},{"d":"2016-08-19","v":5},{"d":"2017-03-25","v":10}]},
          "mark": {"type": "bar", "color": "#111", "binSpacing": 0, "clip": true, "stroke": "#111", "strokeWidth": 0.3},
          "encoding": {
            "x": {"field": "d", "type": "temporal", "timeUnit": "utcyearmonthdate",
              "scale": {"type": "utc", "nice": false, "domain": [{"year":2015,"month":4,"date":1,"utc":true},{"year":2017,"month":3,"date":31,"utc":true}]},
              "axis": {"orient": "bottom", "values": [{"year":2015,"month":4,"date":1,"utc":true},{"year":2015,"month":5,"date":1,"utc":true},{"year":2015,"month":6,"date":1,"utc":true},{"year":2015,"month":7,"date":1,"utc":true},{"year":2015,"month":8,"date":1,"utc":true},{"year":2015,"month":9,"date":1,"utc":true},{"year":2015,"month":10,"date":1,"utc":true},{"year":2015,"month":11,"date":1,"utc":true},{"year":2015,"month":12,"date":1,"utc":true},{"year":2016,"month":1,"date":1,"utc":true},{"year":2016,"month":2,"date":1,"utc":true},{"year":2016,"month":3,"date":1,"utc":true},{"year":2016,"month":4,"date":1,"utc":true},{"year":2016,"month":5,"date":1,"utc":true},{"year":2016,"month":6,"date":1,"utc":true},{"year":2016,"month":7,"date":1,"utc":true},{"year":2016,"month":8,"date":1,"utc":true},{"year":2016,"month":9,"date":1,"utc":true},{"year":2016,"month":10,"date":1,"utc":true},{"year":2016,"month":11,"date":1,"utc":true},{"year":2016,"month":12,"date":1,"utc":true},{"year":2017,"month":1,"date":1,"utc":true},{"year":2017,"month":2,"date":1,"utc":true},{"year":2017,"month":3,"date":1,"utc":true}],
                "labelExpr": "utcmonth(datum.value) % 3 === 0 ? utcFormat(datum.value, '%Y/%m') : ''",
                "labelFontSize": 26, "labelPadding": 11,
                "grid": true, "gridOpacity": {"condition": {"test": "utcmonth(datum.value) % 3 === 0", "value": 1}, "value": 0},
                "tickSize": {"condition": {"test": "utcmonth(datum.value) % 3 === 0", "value": 7}, "value": 4},
                "domainColor": "#777",
                "title": "(年/月)", "titleFont": "Noto Sans CJK JP", "titleFontSize": 21, "titleFontWeight": "bold", "titleColor": "#111",
                "titleAlign": "right", "titleBaseline": "alphabetic", "titleX": 1179, "titleY": 57}},
            "y": {"field": "v", "type": "quantitative", "scale": {"domain": [0, 1500], "nice": false},
              "axis": {"orient": "left", "values": [0,100,200,300,400,500,600,700,800,900,1000,1100,1200,1300,1400,1500],
                "labelExpr": "datum.value % 500 === 0 ? datum.value + '' : ''", "labelFontSize": 24, "labelPadding": 11,
                "grid": true, "gridOpacity": {"condition": {"test": "datum.value % 500 === 0", "value": 1}, "value": 0},
                "tickSize": {"condition": {"test": "datum.value % 500 === 0", "value": 5}, "value": 3},
                "title": "分", "titleAngle": 0, "titleFont": "Noto Sans CJK JP", "titleFontSize": 25, "titleFontWeight": "bold", "titleColor": "#111",
                "titleAlign": "center", "titleBaseline": "alphabetic", "titleX": -14.3, "titleY": -15.8}}
          }
        },
        {
          "data": {"values": [{"d": "2015-05-13T07:00:00Z", "v": 1626, "t": "③ 火山性微動日積算時間"}]},
          "mark": {"type": "text", "align": "left", "baseline": "alphabetic", "font": "Noto Sans CJK JP", "fontSize": 27},
          "encoding": {
            "x": {"field": "d", "type": "temporal", "scale": {"type": "utc"},
              "axis": {"orient": "top", "values": [{"year":2015,"month":4,"date":1,"utc":true},{"year":2015,"month":5,"date":1,"utc":true},{"year":2015,"month":6,"date":1,"utc":true},{"year":2015,"month":7,"date":1,"utc":true},{"year":2015,"month":8,"date":1,"utc":true},{"year":2015,"month":9,"date":1,"utc":true},{"year":2015,"month":10,"date":1,"utc":true},{"year":2015,"month":11,"date":1,"utc":true},{"year":2015,"month":12,"date":1,"utc":true},{"year":2016,"month":1,"date":1,"utc":true},{"year":2016,"month":2,"date":1,"utc":true},{"year":2016,"month":3,"date":1,"utc":true},{"year":2016,"month":4,"date":1,"utc":true},{"year":2016,"month":5,"date":1,"utc":true},{"year":2016,"month":6,"date":1,"utc":true},{"year":2016,"month":7,"date":1,"utc":true},{"year":2016,"month":8,"date":1,"utc":true},{"year":2016,"month":9,"date":1,"utc":true},{"year":2016,"month":10,"date":1,"utc":true},{"year":2016,"month":11,"date":1,"utc":true},{"year":2016,"month":12,"date":1,"utc":true},{"year":2017,"month":1,"date":1,"utc":true},{"year":2017,"month":2,"date":1,"utc":true},{"year":2017,"month":3,"date":1,"utc":true}],
                "labels": false, "grid": false, "domainColor": "#333", "title": null,
                "tickSize": {"condition": {"test": "utcmonth(datum.value) % 3 === 0", "value": 6}, "value": 3}}},
            "y": {"field": "v", "type": "quantitative",
              "axis": {"orient": "right", "values": [0,100,200,300,400,500,600,700,800,900,1000,1100,1200,1300,1400,1500],
                "labels": false, "grid": false, "domainColor": "#888", "title": null,
                "tickSize": {"condition": {"test": "datum.value % 500 === 0", "value": 5}, "value": 3}}},
            "text": {"field": "t"}
          }
        },
        {
          "data": {"values": [{"d": "2015-11-13T00:00:00Z", "v": 1759, "t": "*"}]},
          "mark": {"type": "text", "align": "center", "baseline": "alphabetic", "font": "Liberation Sans", "fontSize": 30, "fontWeight": "bold"},
          "encoding": {"x": {"field": "d", "type": "temporal", "scale": {"type": "utc"}, "axis": null}, "y": {"field": "v", "type": "quantitative", "axis": null}, "text": {"field": "t"}}
        },
        {
          "data": {"values": [{"d": "2015-12-19T00:00:00Z", "v": 1636, "t": "日積算時間に連続微動含む"}]},
          "mark": {"type": "text", "align": "left", "baseline": "alphabetic", "font": "Noto Sans CJK JP", "fontSize": 21},
          "encoding": {"x": {"field": "d", "type": "temporal", "scale": {"type": "utc"}, "axis": null}, "y": {"field": "v", "type": "quantitative", "axis": null}, "text": {"field": "t"}}
        }
      ]
    }
  ]
}
